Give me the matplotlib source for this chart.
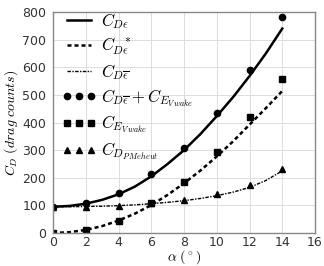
import matplotlib
matplotlib.use("Agg")
import matplotlib.pyplot as plt

plt.rcParams['mathtext.fontset'] = 'cm'
plt.rcParams['font.family'] = ['DejaVu Sans']

# Curves (at 1-degree steps)
alpha_curve = [0, 1, 2, 3, 4, 5, 6, 7, 8, 9, 10, 11, 12, 13, 14]
cd_eps = [95, 98, 106, 120, 140, 168, 205, 250, 300, 358, 423, 492, 568, 650, 740]
cd_eps_star = [0, 3, 11, 25, 45, 70, 101, 138, 180, 226, 277, 332, 392, 452, 514]
cd_eps_bar = [95, 95, 96, 97, 99, 102, 106, 111, 117, 125, 135, 148, 165, 190, 225]

# Measured points
alpha_pts = [0, 2, 4, 6, 8, 10, 12, 14]
cd_bar_plus_ev = [93, 110, 146, 212, 307, 434, 590, 783]
ce_vwake = [0, 11, 45, 107, 186, 292, 421, 559]
cd_p_meheut = [93, 94, 98, 107, 119, 141, 174, 230]

xticks = [0, 2, 4, 6, 8, 10, 12, 14, 16]
yticks = [0, 100, 200, 300, 400, 500, 600, 700, 800]

fig = plt.figure(figsize=(3.24, 2.66), dpi=100)
ax = fig.add_axes([53/324, 1-233/266, (315-53)/324, (233-12)/266])

ax.plot(alpha_curve, cd_eps, color='black', lw=1.8, ls='-', label=r'$C_{D\epsilon}$')
ax.plot(alpha_curve, cd_eps_star, color='black', lw=1.8, ls=(0, (1.6, 1.2)),
        label=r'$C_{D\epsilon}^{\ \ *}$')
ax.plot(alpha_curve, cd_eps_bar, color='black', lw=1.0, ls=(0, (2.5, 1, 1, 1)),
        label=r'$C_{D\overline{\epsilon}}$')
ax.plot(alpha_pts, cd_bar_plus_ev, 'o', color='black', ms=4.5,
        label=r'$C_{D\overline{\epsilon}}+C_{E_{V\,wake}}$')
ax.plot(alpha_pts, ce_vwake, 's', color='black', ms=4.5,
        label=r'$C_{E_{V\,wake}}$')
ax.plot(alpha_pts, cd_p_meheut, '^', color='black', ms=4.5,
        label=r'$C_{D_{P\,Meheut}}$')

ax.set_xlim(0, 16)
ax.set_ylim(0, 800)
ax.set_xticks(xticks)
ax.set_yticks(yticks)
ax.tick_params(axis='y', length=0, labelsize=9, colors='#333333', pad=5)
ax.tick_params(axis='x', length=0, labelsize=9, colors='#333333', pad=2)
ax.grid(True, color='#dddddd', lw=0.7)
for s in ax.spines.values():
    s.set_color('#888888')
    s.set_linewidth(1.0)

ax.set_xlabel(r'$\alpha\ (^\circ)$', fontsize=10)
ax.xaxis.set_label_coords(0.5, -0.107, transform=ax.transAxes)
ax.xaxis.label.set_va('center')
ax.set_ylabel(r'$C_D\ (drag\ counts)$', fontsize=10)
ax.yaxis.set_label_coords(-0.158, 0.5, transform=ax.transAxes)
ax.yaxis.label.set_va('center')

leg = ax.legend(loc='upper left', frameon=False, numpoints=3, fontsize=12,
                handlelength=2.0, labelspacing=0.3, borderaxespad=0.0,
                handletextpad=0.35, bbox_to_anchor=(0.01, 1.035))

fig.savefig('out.png', dpi=100)
